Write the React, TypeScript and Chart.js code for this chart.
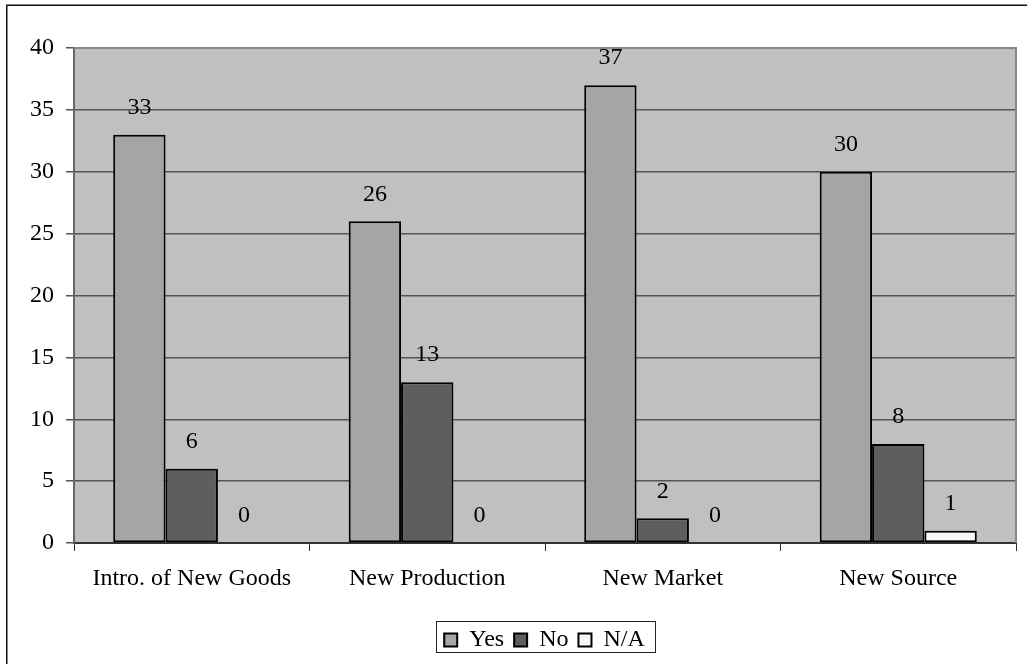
import React, { useEffect, useRef } from "react";
import { Chart, registerables } from "chart.js";

Chart.register(...registerables);

const categories = ["Intro. of New Goods", "New Production", "New Market", "New Source"];
const seriesNames = ["Yes", "No", "N/A"];
const yesValues = [33, 26, 37, 30];
const noValues = [6, 13, 2, 8];
const naValues = [0, 0, 0, 1];
const seriesColors = ["#A5A5A5", "#5E5E5E", "#F8F8F8"];
const yMin = 0;
const yMax = 40;
const yStep = 5;

const FONT = '"Times New Roman", "Liberation Serif", serif';
const FS = 24;

const decorPlugin = {
  id: "decor",
  afterLayout(chart: any) {
    const legend = chart.legend;
    if (legend) {
      legend.left = chart.chartArea.left - 1;
    }
  },
  beforeDraw(chart: any) {
    const { ctx, chartArea, width, height } = chart;
    ctx.save();
    ctx.fillStyle = "#FFFFFF";
    ctx.fillRect(0, 0, width, height);
    ctx.strokeStyle = "#111111";
    ctx.lineWidth = 1.5;
    ctx.strokeRect(6.75, 5.25, width + 20, height + 20);
    ctx.fillStyle = "#C0C0C0";
    ctx.fillRect(chartArea.left, chartArea.top, chartArea.right - chartArea.left, chartArea.bottom - chartArea.top);
    ctx.restore();
  },
  afterDatasetsDraw(chart: any) {
    const { ctx } = chart;
    ctx.save();
    ctx.font = FS + "px " + FONT;
    ctx.fillStyle = "#000000";
    ctx.textAlign = "center";
    ctx.textBaseline = "middle";
    chart.data.datasets.forEach((ds: any, di: number) => {
      const meta = chart.getDatasetMeta(di);
      meta.data.forEach((bar: any, i: number) => {
        ctx.fillText(String(ds.data[i]), bar.x, bar.y - 27);
      });
    });
    ctx.restore();
  },
  afterDraw(chart: any) {
    const { ctx, chartArea } = chart;
    ctx.save();
    ctx.strokeStyle = "#888888";
    ctx.lineWidth = 2;
    ctx.beginPath();
    ctx.moveTo(chartArea.left, chartArea.top);
    ctx.lineTo(chartArea.right, chartArea.top);
    ctx.lineTo(chartArea.right, chartArea.bottom);
    ctx.stroke();
    const legend = chart.legend;
    if (legend && legend.legendHitBoxes && legend.legendHitBoxes.length) {
      const hbs = legend.legendHitBoxes;
      let l = Infinity, r = -Infinity, t = Infinity, b = -Infinity;
      hbs.forEach((h: any) => {
        l = Math.min(l, h.left);
        r = Math.max(r, h.left + h.width);
        t = Math.min(t, h.top);
        b = Math.max(b, h.top + h.height);
      });
      ctx.strokeStyle = "#222222";
      ctx.lineWidth = 1;
      ctx.strokeRect(Math.round(l - 8) + 0.5, Math.round(t - 7) + 0.5, Math.round(r - l + 18), Math.round(b - t + 7));
    }
    ctx.restore();
  },
};

export default function App() {
  const ref = useRef<HTMLCanvasElement | null>(null);
  useEffect(() => {
    if (!ref.current) return;
    const values = [yesValues, noValues, naValues];
    const chart = new Chart(ref.current, {
      type: "bar",
      data: {
        labels: categories,
        datasets: seriesNames.map((name, i) => ({
          label: name,
          data: values[i],
          backgroundColor: seriesColors[i],
          borderColor: "#000000",
          borderWidth: 2,
          borderSkipped: false,
          categoryPercentage: 0.667,
          barPercentage: 1,
        })),
      },
      options: {
        animation: false,
        responsive: false,
        maintainAspectRatio: false,
        layout: { padding: { left: 0, top: 48, right: 11, bottom: 2 } },
        font: { family: FONT, size: FS } as any,
        plugins: {
          tooltip: { enabled: false },
          legend: {
            display: true,
            position: "bottom",
            labels: {
              font: { family: FONT, size: FS },
              color: "#000000",
              boxWidth: 13,
              boxHeight: 13,
              padding: 10,
            },
          },
        },
        scales: {
          x: {
            grid: {
              display: true,
              drawOnChartArea: false,
              drawTicks: true,
              tickLength: 8,
              offset: true,
              color: "#333333",
              lineWidth: 1,
            },
            border: { display: true, color: "#333333", width: 2 },
            ticks: { font: { family: FONT, size: FS }, color: "#000000", padding: 13, maxRotation: 0 },
            afterFit: (scale: any) => {
              scale.height = 75;
            },
          },
          y: {
            min: yMin,
            max: yMax,
            grid: {
              color: "#555555",
              lineWidth: 1.5,
              drawTicks: true,
              tickLength: 8,
            },
            border: { display: true, color: "#666666", width: 2 },
            ticks: {
              stepSize: yStep,
              font: { family: FONT, size: FS },
              color: "#000000",
              padding: 12,
            },
            afterFit: (scale: any) => {
              scale.width = 74;
            },
          },
        },
      },
      plugins: [decorPlugin],
    });
    return () => chart.destroy();
  }, []);
  return (
    <div style={{ position: "absolute", left: 0, top: 0, width: 1027, height: 664, overflow: "hidden" }}>
      <canvas ref={ref} width={1027} height={664} style={{ display: "block", width: 1027, height: 664 }} />
    </div>
  );
}
